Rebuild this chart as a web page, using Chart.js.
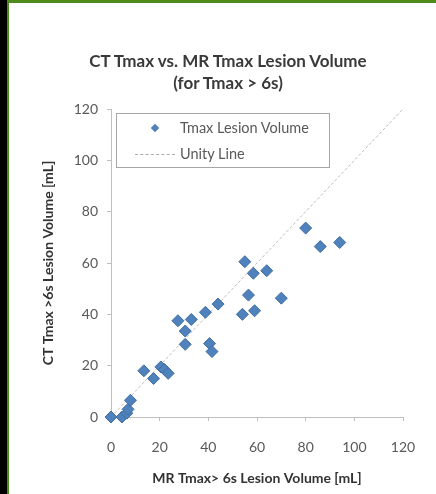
<!DOCTYPE html>
<html>
<head>
<meta charset="utf-8">
<script src="https://cdn.jsdelivr.net/npm/chart.js@4"></script>
<style>
  html, body { margin: 0; padding: 0; background: #fff; }
  #frame { position: relative; width: 436px; height: 494px; overflow: hidden; background: #fff; }
  #edgeLeft { position: absolute; left: 0; top: 0; width: 7px; height: 494px; background: #000; }
  #edgeGreen { position: absolute; left: 7px; top: 0; width: 2px; height: 494px; background: #4f8a1c; }
  #edgeTop { position: absolute; left: 7px; top: 0; width: 429px; height: 3px; background: #4f8a1c; }
  #chartBox { position: absolute; left: 0; top: 0; width: 436px; height: 494px; filter: blur(0.4px); }
  #title {
    position: absolute; left: 10px; top: 50px; width: 436px; text-align: center;
    font-family: Lato, sans-serif; font-weight: bold; font-size: 17px; line-height: 22px;
    color: #3a3a3a; filter: blur(0.4px);
  }
  #legend {
    position: absolute; left: 116px; top: 113px; width: 212px; height: 53px;
    border: 1px solid #a6a6a6; background: #fff; filter: blur(0.4px);
    font-family: Lato, sans-serif; font-size: 14.5px; color: #595959;
  }
  .item { position: absolute; left: 0; height: 16px; line-height: 16px; }
  .item span.txt { position: absolute; left: 63px; white-space: nowrap; }
  .diamond { position: absolute; left: 35px; top: 5px; width: 6px; height: 6px; background: #4F81BD; transform: rotate(45deg); }
  .dash { position: absolute; left: 18px; top: 8px; width: 40px; border-top: 1px dashed #b0a8aa; }
</style>
</head>
<body>
<div id="frame">
  <div id="chartBox"><canvas id="chart" width="436" height="494"></canvas></div>
  <div id="edgeLeft"></div>
  <div id="edgeGreen"></div>
  <div id="edgeTop"></div>
  <div id="title">CT Tmax vs. MR Tmax Lesion Volume<br>(for Tmax &gt; 6s)</div>
  <div id="legend">
    <div class="item" style="top:6px"><span class="diamond"></span><span class="txt">Tmax Lesion Volume</span></div>
    <div class="item" style="top:32px"><span class="dash"></span><span class="txt">Unity Line</span></div>
  </div>
</div>
<script>
// MR Tmax>6s volume (x) vs CT Tmax>6s volume (y), mL
const mrVolume = [0, 4.5, 6.5, 7, 8, 13.5, 17.5, 20.5, 22, 23.5, 27.5, 30.5, 30.5, 33, 38.8, 40.5, 41.5, 44, 54, 55, 56.5, 58.5, 59, 64, 70, 80, 86, 94];
const ctVolume = [0, 0, 1.5, 3, 6.5, 18, 15, 19.5, 18.5, 17, 37.5, 33.5, 28.3, 38, 40.8, 28.6, 25.5, 44, 40, 60.5, 47.5, 56, 41.4, 57, 46.3, 73.6, 66.4, 68];
const unityX = [0, 120];
const axisTicks = [0, 20, 40, 60, 80, 100, 120];

const lesionPoints = mrVolume.map((x, i) => ({ x: x, y: ctVolume[i] }));
const unityPoints = unityX.map(v => ({ x: v, y: v }));

const labelFont = { family: 'Lato', size: 14 };
const axisTitleFont = { family: 'Lato', size: 14, weight: 'bold' };

new Chart(document.getElementById('chart'), {
    type: 'scatter',
    data: {
        datasets: [{
            label: 'Tmax Lesion Volume',
            data: lesionPoints,
            clip: false,
            pointStyle: 'rectRot',
            pointRadius: 6,
            pointHoverRadius: 6,
            backgroundColor: '#4F81BD',
            borderColor: '#416f9f',
            borderWidth: 1
        }, {
            type: 'line',
            label: 'Unity Line',
            data: unityPoints,
            borderColor: '#c8b8bc',
            borderWidth: 1,
            borderDash: [3, 2],
            pointRadius: 0,
            fill: false
        }]
    },
    options: {
        responsive: false,
        animation: false,
        events: [],
        layout: { padding: { top: 109, left: 0, right: 33, bottom: 0 } },
        plugins: {
            legend: { display: false },
            tooltip: { enabled: false },
            title: { display: false }
        },
        scales: {
            x: {
                type: 'linear',
                min: 0,
                max: 120,
                afterFit: s => { s.height = 77; },
                afterBuildTicks: s => { s.ticks = axisTicks.map(v => ({ value: v })); },
                ticks: { color: '#595959', font: labelFont, padding: 18 },
                grid: { drawOnChartArea: false, drawTicks: true, tickLength: 4, color: '#bfbfbf' },
                border: { color: '#bfbfbf' },
                title: {
                    display: true,
                    text: 'MR Tmax> 6s Lesion Volume [mL]',
                    color: '#333',
                    font: axisTitleFont,
                    padding: { top: 0, bottom: 7 }
                }
            },
            y: {
                type: 'linear',
                min: 0,
                max: 120,
                afterFit: s => { s.width = 111; },
                afterBuildTicks: s => { s.ticks = axisTicks.map(v => ({ value: v })); },
                ticks: { color: '#595959', font: labelFont, padding: 9 },
                grid: { drawOnChartArea: false, drawTicks: true, tickLength: 4, color: '#bfbfbf' },
                border: { color: '#bfbfbf' },
                title: {
                    display: true,
                    text: 'CT Tmax >6s Lesion Volume [mL]',
                    color: '#333',
                    font: axisTitleFont,
                    padding: { top: 40, bottom: 0 }
                }
            }
        }
    }
});
</script>
</body>
</html>
